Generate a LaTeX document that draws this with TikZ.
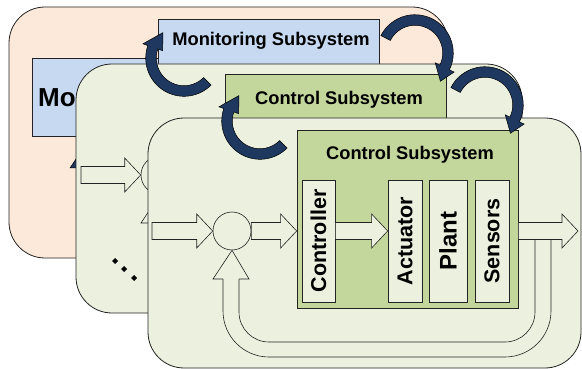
\documentclass[tikz,border=0pt]{standalone}
\usepackage{fontspec}
\setmainfont{Liberation Sans}
\usetikzlibrary{calc}

\definecolor{peach}{RGB}{253,233,218}
\definecolor{pale}{RGB}{235,241,222}
\definecolor{leaf}{RGB}{195,214,155}
\definecolor{sky}{RGB}{198,217,241}
\definecolor{navy}{RGB}{31,56,96}
\definecolor{edge}{RGB}{35,35,35}

\tikzset{
  layer/.style={draw=edge, line width=0.8pt, rounded corners=36pt},
  box/.style={draw=edge, line width=0.7pt, rectangle, inner sep=0pt},
  title/.style={font=\bfseries\fontsize{18.3}{21}\selectfont, inner sep=0pt},
  unit/.style={box, fill=pale, minimum height=122pt},
  vlabel/.style={rotate=90, font=\bfseries\fontsize{21.5}{24}\selectfont, inner sep=0pt},
  barrow/.style={draw=edge, line width=0.6pt, fill=pale, line join=miter},
  fbline/.style={draw=edge, line width=0.6pt},
  junction/.style={circle, draw=edge, line width=0.6pt, fill=pale, minimum size=38pt, inner sep=0pt},
  curl/.style={fill=navy, draw=black, line width=0.5pt, line join=miter},
}

% horizontal block arrow from #1 to the tip #2 (both on the same height)
\newcommand\blockarr[2]{%
  \draw[barrow] let \p1=(#1), \p2=(#2) in
    (\x1,\y2+8.5pt) -- (\x2-16pt,\y2+8.5pt) -- (\x2-16pt,\y2+17pt) -- (\x2,\y2)
    -- (\x2-16pt,\y2-17pt) -- (\x2-16pt,\y2-8.5pt) -- (\x1,\y2-8.5pt) -- cycle;}

% curved band arrow: centre (#1,#2), radius #3, tail angle #4, head angle #5,
% tip angle #6, tip radius #7
\newcommand\curlarr[7]{%
  \filldraw[curl]
    plot[domain=#4:#5, samples=30] ({#1+(#3+5.3)*cos(\x)},{#2+(#3+5.3)*sin(\x)})
    -- ({#1+(#3+10.5)*cos(#5)},{#2+(#3+10.5)*sin(#5)})
    -- ({#1+#7*cos(#6)},{#2+#7*sin(#6)})
    -- ({#1+(#3-10.5)*cos(#5)},{#2+(#3-10.5)*sin(#5)})
    -- plot[domain=#5:#4, samples=30] ({#1+(#3-5.3)*cos(\x)},{#2+(#3-5.3)*sin(\x)})
    -- cycle;}

\begin{document}
\begin{tikzpicture}[x=1pt, y=-1pt]
\useasboundingbox (0,0) rectangle (582,369);

% ---------- back sheet: monitoring level ----------
\draw[layer, fill=peach] (9,7) rectangle (448,258);
\node[box, fill=sky, minimum width=268pt, minimum height=78pt] (mbox) at (166,97) {};
\node[anchor=base west, font=\bfseries\fontsize{26}{30}\selectfont, inner sep=0pt] (mtext) at (38,107) {Monitoring};
\node[box, fill=sky, minimum width=221pt, minimum height=177pt] (mon) at (268.5,107.5) {};
\node[title] (monlab) at (271,41) {Monitoring Subsystem};
\filldraw[curl] (88,141) -- (106,168) -- (70,168) -- cycle;

% ---------- middle sheet ----------
\draw[layer, fill=pale] (76,64) rectangle (522,313);
\node[box, fill=leaf, minimum width=221pt, minimum height=178pt] (cs2) at (335.5,163) {};
\node[title] (cs2lab) at (339,100) {Control Subsystem};
\node[junction] (sum2) at (160,175) {};
\coordinate (in2) at (81,175);
\blockarr{in2}{sum2.west}
\draw[fbline, line join=miter] (151,240) -- (151,223) -- (141,223) -- (sum2.south) -- (177,223) -- (167,223) -- (167,240);
\foreach \px/\py [count=\k] in {115/261, 124/269, 134/278}
  \fill[black] (\px,\py) coordinate (dot\k) +(0,-3) -- +(3,0) -- +(0,3) -- +(-3,0) -- cycle;

% ---------- front sheet ----------
\draw[layer, fill=pale] (148,118) rectangle (581,368);
\node[box, fill=leaf, minimum width=221pt, minimum height=178pt] (cs3) at (407.5,219) {};
\node[title] (cs3lab) at (410,155) {Control Subsystem};

\node[unit, minimum width=33pt] (ctrl)  at (318.5,241) {};
\node[unit, minimum width=34pt] (act)   at (405,241) {};
\node[unit, minimum width=38pt] (plant) at (448,241) {};
\node[unit, minimum width=34pt] (sens)  at (492,241) {};
\node[vlabel] at (ctrl)  {Controller};
\node[vlabel] at (act)   {Actuator};
\node[vlabel, font=\bfseries\fontsize{24}{26}\selectfont] at (plant) {Plant};
\node[vlabel] at (sens)  {Sensors};

\node[junction] (sum3) at (232,231) {};
\coordinate (in3) at (152,231);
\coordinate (out3) at (578,231);
\blockarr{in3}{sum3.west}
\blockarr{sum3.east}{sum3 -| cs3.west}
\blockarr{ctrl.east |- sum3}{act.west |- sum3}
\blockarr{cs3.east |- sum3}{out3}

% feedback loop back into the junction
\draw[fbline, rounded corners=46pt] (551,239.5) -- (551,357) -- (223,357) -- (223,279);
\draw[fbline, rounded corners=30pt] (535,239.5) -- (535,342) -- (239,342) -- (239,279);
\draw[fbline, fill=pale, line join=miter] (223,279) -- (213,279) -- (sum3.south) -- (249,279) -- (239,279);

% ---------- curved arrows between the sheets ----------
\curlarr{184}{58}{33}{45}{199}{230}{33}
\curlarr{260}{121}{33}{45}{199}{230}{33}
\curlarr{415}{53}{33}{207}{386}{408}{38}
\curlarr{485}{105}{33}{207}{386}{408}{38}
\end{tikzpicture}
\end{document}
